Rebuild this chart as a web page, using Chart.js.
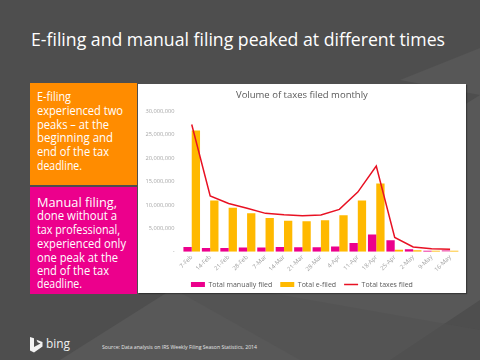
<!DOCTYPE html>
<html><head><meta charset="utf-8">
<script src="https://cdn.jsdelivr.net/npm/chart.js@4"></script>
<style>
html,body{margin:0;padding:0;}
body{width:480px;height:360px;position:relative;overflow:hidden;background:#4e4e4e;font-family:"Open Sans",sans-serif;}
.t{position:absolute;white-space:nowrap;transform-origin:0 50%;display:inline-block;}
.box{position:absolute;left:30px;width:107px;}
.bl{position:absolute;left:7px;white-space:nowrap;color:#fff;font-size:13.5px;line-height:14px;transform-origin:0 50%;display:inline-block;}
#panel{position:absolute;left:138px;top:84px;width:328px;height:209px;background:#fff;box-shadow:1px 1px 1px rgba(0,0,0,0.35);}
#cw{position:absolute;left:138px;top:84px;width:328px;height:230px;}
</style></head><body>
<svg width="480" height="360" style="position:absolute;left:0;top:0">
<polygon points="60,360 480,95 480,300 390,360" fill="#585858"/>
<polygon points="140,270 480,330 480,360 300,360" fill="#525252" opacity="0.6"/>
<polygon points="400,80 480,48 480,95" fill="#575757"/>
<path d="M30,337 L34,338.3 L34,347 L40.5,343.6 L37.6,342.3 L36.5,339.8 L42.5,342 L42.5,346.5 L34,352.6 L30,350.6 Z" fill="#f2f2f2"/>
</svg>
<div class="t" id="title" data-w="414" style="left:31px;top:27px;font-size:19px;line-height:24px;color:#fff;">E-filing and manual filing peaked at different times</div>

<div class="box" style="top:83px;height:102px;background:#ff8c00;">
<div class="bl" data-w="34" style="top:6px">E-filing</div>
<div class="bl" data-w="86" style="top:20px">experienced two</div>
<div class="bl" data-w="72" style="top:33.5px">peaks – at the</div>
<div class="bl" data-w="76" style="top:47px">beginning and</div>
<div class="bl" data-w="72" style="top:61px">end of the tax</div>
<div class="bl" data-w="45" style="top:75px">deadline.</div>
</div>
<div class="box" style="top:186.5px;height:107px;background:#ec008c;">
<div class="bl" data-w="80" style="top:8px">Manual filing,</div>
<div class="bl" data-w="80" style="top:21.5px">done without a</div>
<div class="bl" data-w="83" style="top:35.5px">tax professional,</div>
<div class="bl" data-w="89" style="top:49px">experienced only</div>
<div class="bl" data-w="81" style="top:63px">one peak at the</div>
<div class="bl" data-w="72" style="top:76.5px">end of the tax</div>
<div class="bl" data-w="45" style="top:89.5px">deadline.</div>
</div>

<div id="panel"></div>
<div id="cw"><canvas id="c" width="328" height="230"></canvas></div>

<div class="t" data-w="24" style="left:46px;top:336px;font-size:12px;line-height:16px;color:#f0f0f0;">bing</div>
<div class="t" data-w="155" style="left:101.5px;top:343px;font-size:6px;line-height:8px;color:#e6e6e6;">Source: Data analysis on IRS Weekly Filing Season Statistics, 2014</div>

<script>
const categories = ['7-Feb','14-Feb','21-Feb','28-Feb','7-Mar','14-Mar','21-Mar','28-Mar','4-Apr','11-Apr','18-Apr','25-Apr','2-May','9-May','16-May'];
const manuallyFiled = [1030000,800000,800000,880000,880000,1030000,950000,950000,1100000,1840000,3680000,2430000,500000,200000,350000];
const eFiled = [25900000,10950000,9380000,8200000,7230000,6600000,6500000,6750000,7780000,10930000,14600000,440000,300000,200000,200000];
const totalFiled = [27200000,11900000,10300000,9300000,8200000,7900000,7700000,7850000,9050000,12750000,18300000,3050000,1020000,630000,500000];
const yTicks = [0,5000000,10000000,15000000,20000000,25000000,30000000];

document.querySelectorAll('[data-w]').forEach(el=>{
  const w = el.getBoundingClientRect().width;
  el.style.transform = 'scaleX(' + (parseFloat(el.dataset.w)/w) + ')';
});

const manualColors = manuallyFiled.map((v,i)=> i===manuallyFiled.length-1 ? '#f277bb' : '#ec008c');

new Chart(document.getElementById('c'), {
  data: {
    labels: categories,
    datasets: [
      {type:'bar', label:'Total manually filed', data: manuallyFiled, backgroundColor: manualColors, borderWidth:0, pointStyle:'rect', categoryPercentage:0.9, barPercentage:1.0, order:1},
      {type:'bar', label:'Total e-filed', data: eFiled, backgroundColor:'#ffb900', borderWidth:0, pointStyle:'rect', categoryPercentage:0.9, barPercentage:1.0, order:1},
      {type:'line', label:'Total taxes filed', data: totalFiled, borderColor:'#e81123', backgroundColor:'#e81123', borderWidth:1.5, pointRadius:0, tension:0, pointStyle:'line', order:0}
    ]
  },
  options: {
    responsive:false, animation:false, devicePixelRatio:1,
    layout:{padding:{left:6.5, right:6.7, top:0, bottom:16}},
    plugins:{
      tooltip:{enabled:false},
      title:{display:true, text:'Volume of taxes filed monthly', color:'#595959', font:{family:'Open Sans', size:9.5, weight:'normal'}, padding:{top:6, bottom:10}},
      legend:{position:'bottom', labels:{usePointStyle:true, pointStyleWidth:14, boxWidth:14, boxHeight:5, color:'#595959', font:{family:'Open Sans', size:7}, padding:8, sort:(a,b)=>a.datasetIndex-b.datasetIndex}}
    },
    scales:{
      x:{grid:{display:false, drawTicks:false}, border:{display:false},
         ticks:{minRotation:45, maxRotation:45, color:'#a0a0a0', font:{family:'Open Sans', size:6}, padding:2},
         afterFit:(s)=>{s.height=21.3;}},
      y:{min:0, max:30000000, grid:{display:false, drawTicks:false}, border:{display:false},
         afterBuildTicks:(s)=>{s.ticks = yTicks.map(v=>({value:v}));},
         ticks:{color:'#a6a6a6', font:{family:'Open Sans', size:5.7}, padding:8,
           callback:(v)=> v===0 ? '-' : Number(v).toLocaleString('en-US')},
         afterFit:(s)=>{s.width=38;}}
    }
  }
});
</script>
</body></html>
